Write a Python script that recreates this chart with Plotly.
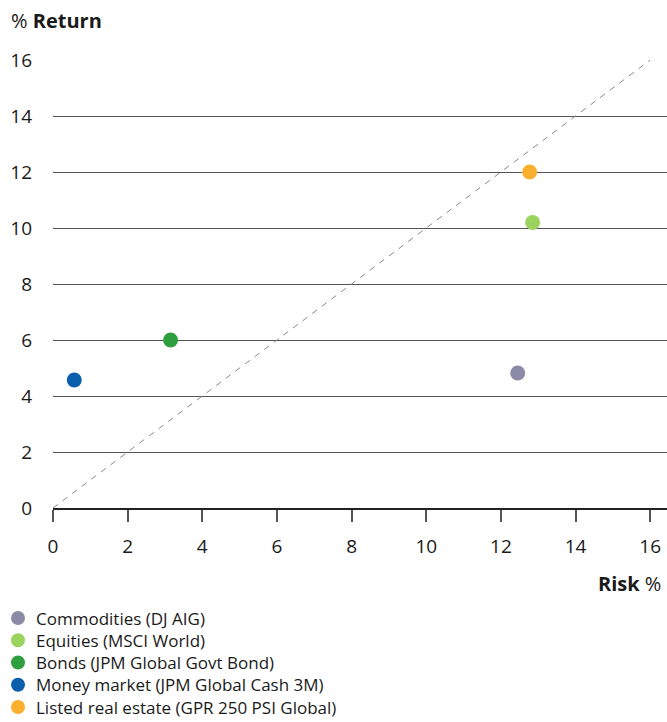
import plotly.graph_objects as go

names = ["Commodities (DJ AIG)", "Equities (MSCI World)", "Bonds (JPM Global Govt Bond)",
         "Money market (JPM Global Cash 3M)", "Listed real estate (GPR 250 PSI Global)"]
risk = [12.45, 12.85, 3.15, 0.57, 12.77]
ret = [4.82, 10.2, 6.0, 4.57, 12.0]
colors = ["#8B8BA7", "#9AD45E", "#2E9E3E", "#0A5EAC", "#FBB02D"]
diag = [0, 16]
ticks = [0, 2, 4, 6, 8, 10, 12, 14, 16]

FONT = "Open Sans"
TXT = "#1a1a1a"
fig = go.Figure()
fig.add_trace(go.Scatter(x=diag, y=diag, mode="lines", showlegend=False, hoverinfo="skip",
                         line=dict(color="#888888", width=1, dash="6px,6px")))
for n, x, y, c in zip(names, risk, ret, colors):
    fig.add_trace(go.Scatter(x=[x], y=[y], mode="markers", name=n, showlegend=False,
                             marker=dict(color=c, size=15, line=dict(width=0))))

fig.update_layout(
    width=667, height=722,
    margin=dict(l=53, r=0, t=60, b=214),
    plot_bgcolor="white", paper_bgcolor="white",
    font=dict(family=FONT, size=19, color=TXT),
    showlegend=False,
    xaxis=dict(range=[0, 16.45], tickvals=ticks, showgrid=False, zeroline=False,
               showline=True, linecolor="#222222", linewidth=1.5,
               ticks="outside", ticklen=12, tickcolor="#555555", tickwidth=1.5,
               ticklabelstandoff=8),
    yaxis=dict(range=[0, 16], tickvals=ticks, showgrid=True, gridcolor="#555555", gridwidth=1.3,
               zeroline=False, showline=False, ticks="", ticklabelstandoff=20),
)
fig.add_annotation(text="% <b>Return</b>", xref="paper", yref="paper", x=0, y=1,
                   xanchor="left", yanchor="middle", xshift=-44, yshift=40, showarrow=False,
                   font=dict(size=20, color=TXT))
fig.add_annotation(text="<b>Risk</b> %", xref="paper", yref="paper", x=1, y=0,
                   xanchor="right", yanchor="middle", xshift=-4, yshift=-75, showarrow=False,
                   font=dict(size=20, color=TXT))

# manual legend (tight line spacing as in the reference)
for i, (n, c) in enumerate(zip(names, colors)):
    dy = -(110 + 22.25 * i)
    fig.add_shape(type="circle", xref="paper", yref="paper", xsizemode="pixel", ysizemode="pixel",
                  xanchor=0, yanchor=0, x0=-42, x1=-28, y0=dy - 7, y1=dy + 7,
                  fillcolor=c, line=dict(width=0))
    fig.add_annotation(text=n, xref="paper", yref="paper", x=0, y=0, xanchor="left",
                       yanchor="middle", xshift=-19, yshift=dy, showarrow=False,
                       font=dict(size=17, color=TXT))

fig.write_html("out.html", config={"displayModeBar": False},
               post_script="document.body.style.margin='0';document.body.style.overflow='hidden';")
